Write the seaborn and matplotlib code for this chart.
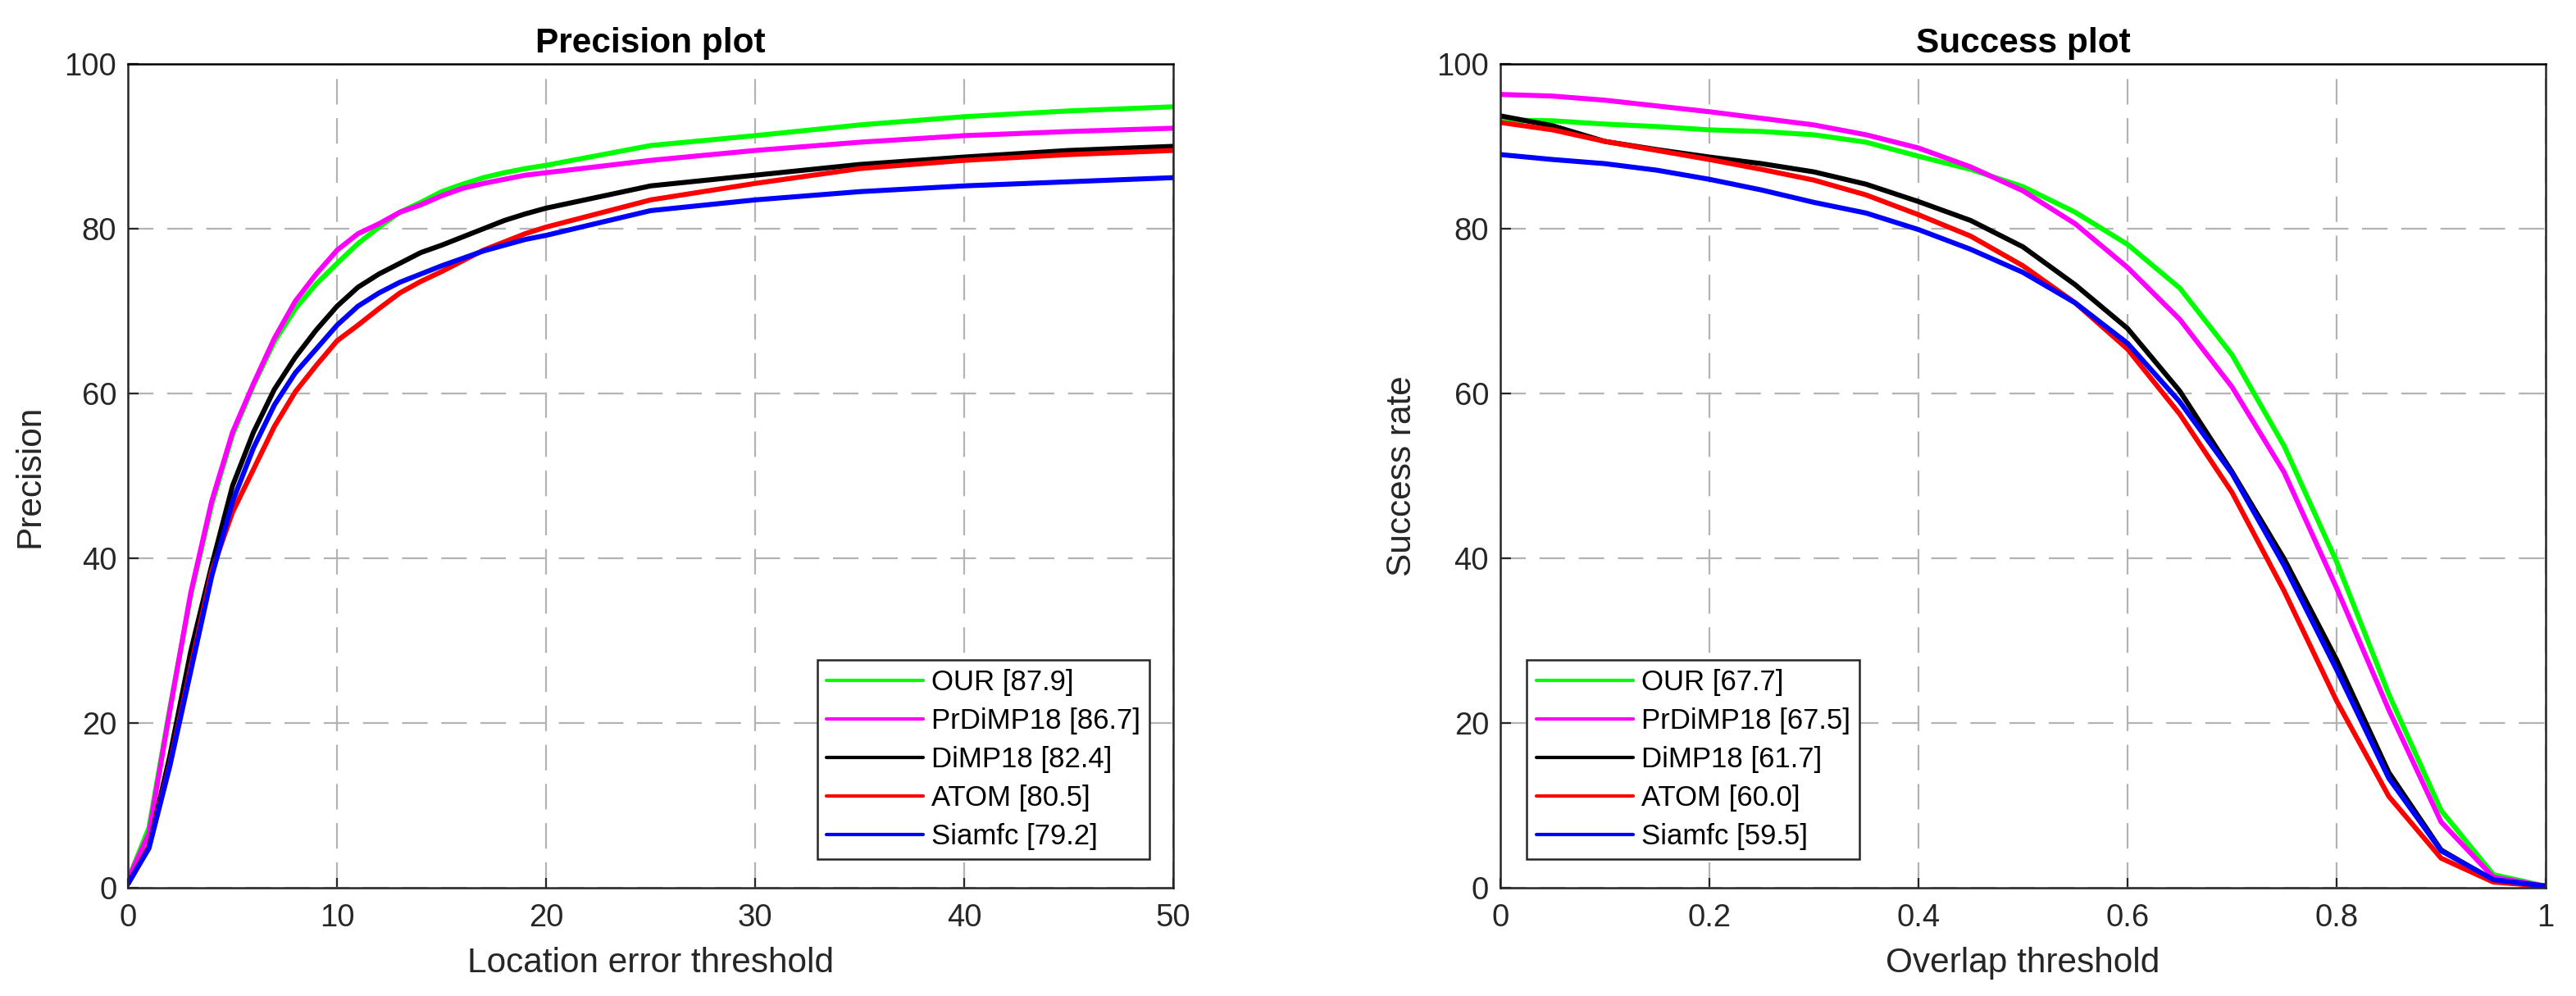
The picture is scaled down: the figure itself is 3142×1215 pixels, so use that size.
import matplotlib
matplotlib.use("Agg")
import matplotlib.pyplot as plt
import pandas as pd
import seaborn as sns

# ---- data ----
trackers = ["OUR", "PrDiMP18", "DiMP18", "ATOM", "Siamfc"]
colors = ["#00ff00", "#ff00ff", "#000000", "#ff0000", "#0000ff"]
precision_scores = [87.9, 86.7, 82.4, 80.5, 79.2]
success_scores = [67.7, 67.5, 61.7, 60.0, 59.5]

location_thresholds = list(range(21)) + [25, 30, 35, 40, 45, 50]
prec_our = [1.0, 7.3, 21.8, 35.5, 46.5, 55.0, 61.0, 66.3, 70.3, 73.3, 75.8, 78.2, 80.2, 82.0,
            83.2, 84.5, 85.4, 86.2, 86.8, 87.3, 87.7, 90.1, 91.3, 92.6, 93.6, 94.3, 94.8]
prec_prdimp = [1.0, 6.6, 21.5, 35.8, 46.9, 55.3, 61.2, 66.7, 71.2, 74.5, 77.4, 79.4, 80.6, 82.0,
               82.9, 84.0, 84.9, 85.5, 86.0, 86.5, 86.8, 88.3, 89.5, 90.5, 91.3, 91.8, 92.2]
prec_dimp = [0.5, 5.0, 16.0, 28.7, 39.1, 48.8, 55.3, 60.5, 64.4, 67.7, 70.6, 72.9, 74.5, 75.8,
             77.1, 78.0, 79.0, 80.0, 81.0, 81.8, 82.5, 85.2, 86.5, 87.8, 88.7, 89.5, 90.0]
prec_atom = [0.5, 5.0, 15.0, 26.8, 38.4, 45.6, 50.8, 56.0, 60.2, 63.4, 66.4, 68.3, 70.3, 72.2,
             73.6, 74.8, 76.1, 77.4, 78.4, 79.4, 80.2, 83.5, 85.5, 87.3, 88.3, 89.0, 89.5]
prec_siamfc = [0.5, 4.8, 14.8, 26.3, 37.8, 46.9, 53.4, 58.6, 62.5, 65.4, 68.3, 70.6, 72.2, 73.5,
               74.5, 75.5, 76.4, 77.3, 78.0, 78.7, 79.2, 82.2, 83.5, 84.5, 85.2, 85.7, 86.2]

overlap_thresholds = [0.0, 0.05, 0.1, 0.15, 0.2, 0.25, 0.3, 0.35, 0.4, 0.45, 0.5,
                      0.55, 0.6, 0.65, 0.7, 0.75, 0.8, 0.85, 0.9, 0.95, 1.0]
succ_our = [93.2, 93.1, 92.7, 92.4, 92.0, 91.8, 91.4, 90.5, 88.8, 87.2, 85.1,
            82.0, 78.1, 72.8, 64.7, 53.6, 39.6, 23.5, 9.4, 1.6, 0.2]
succ_prdimp = [96.3, 96.1, 95.6, 94.9, 94.2, 93.4, 92.6, 91.4, 89.8, 87.5, 84.6,
               80.6, 75.3, 69.0, 60.8, 50.4, 36.4, 21.6, 8.0, 1.3, 0.2]
succ_dimp = [93.7, 92.5, 90.6, 89.6, 88.7, 87.9, 86.9, 85.4, 83.3, 81.0, 77.8,
             73.2, 67.9, 60.3, 50.5, 39.9, 27.7, 14.0, 4.6, 0.9, 0.2]
succ_atom = [92.9, 92.0, 90.6, 89.5, 88.4, 87.2, 85.9, 84.1, 81.7, 79.1, 75.5,
             71.0, 65.4, 57.5, 48.0, 36.0, 22.7, 11.1, 3.6, 0.7, 0.2]
succ_siamfc = [89.0, 88.4, 87.9, 87.1, 86.0, 84.7, 83.2, 81.9, 79.9, 77.5, 74.7,
               71.0, 66.1, 59.0, 50.3, 39.1, 26.5, 13.3, 4.5, 1.0, 0.2]

prec_xticks = [0, 10, 20, 30, 40, 50]
prec_xticklabels = ["0", "10", "20", "30", "40", "50"]
succ_xticks = [0, 0.2, 0.4, 0.6, 0.8, 1.0]
succ_xticklabels = ["0", "0.2", "0.4", "0.6", "0.8", "1"]
yticks = [0, 20, 40, 60, 80, 100]
yticklabels = ["0", "20", "40", "60", "80", "100"]


def long_frame(x, series, scores):
    rows = []
    for name, values, score in zip(trackers, series, scores):
        label = f"{name} [{score:.1f}]"
        for xv, yv in zip(x, values):
            rows.append({"x": xv, "y": yv, "tracker": label})
    return pd.DataFrame(rows)


prec_df = long_frame(location_thresholds,
                     [prec_our, prec_prdimp, prec_dimp, prec_atom, prec_siamfc],
                     precision_scores)
succ_df = long_frame(overlap_thresholds,
                     [succ_our, succ_prdimp, succ_dimp, succ_atom, succ_siamfc],
                     success_scores)

sns.set_theme(style="white")
plt.rcParams["font.family"] = ["Liberation Sans", "DejaVu Sans"]
plt.rcParams["axes.edgecolor"] = "#262626"
plt.rcParams["text.color"] = "#262626"
plt.rcParams["axes.labelcolor"] = "#262626"
plt.rcParams["xtick.color"] = "#262626"
plt.rcParams["ytick.color"] = "#262626"

fig = plt.figure(figsize=(31.42, 12.15), dpi=100)
ax1 = fig.add_axes([0.0497, 0.1086, 0.4058, 0.8272])
ax2 = fig.add_axes([0.5824, 0.1086, 0.4058, 0.8272])


def style_axes(ax, df, title, xlabel, ylabel, xlim, xticks, xticklabels, legend_loc, anchor):
    palette = dict(zip(df["tracker"].unique(), colors))
    sns.lineplot(data=df, x="x", y="y", hue="tracker", palette=palette,
                 linewidth=4.4, ax=ax, legend=False, sort=False)
    ax.set_xlim(*xlim)
    ax.set_ylim(0, 100)
    ax.set_xticks(xticks)
    ax.set_xticklabels(xticklabels)
    ax.set_yticks(yticks)
    ax.set_yticklabels(yticklabels)
    ax.set_axisbelow(True)
    ax.grid(True, color="#b3b3b3", linewidth=1.6, linestyle=(0, (14, 7.5)))
    for s in ax.spines.values():
        s.set_visible(True)
        s.set_linewidth(1.8)
        s.set_color("#262626")
    ax.spines["top"].set_color("black")
    ax.tick_params(axis="both", direction="in", length=9, width=1.6, labelsize=27.5,
                   left=True, bottom=True)
    ax.tick_params(axis="x", pad=14)
    ax.tick_params(axis="y", pad=10)
    ax.set_title(title, fontsize=30.5, fontweight="bold", color="black", pad=10)
    ax.set_xlabel(xlabel, fontsize=30.5, labelpad=12)
    ax.set_ylabel(ylabel, fontsize=30.5, labelpad=16)

    handles = [plt.Line2D([], [], color=c, linewidth=3.0) for c in colors]
    leg = ax.legend(handles, list(df["tracker"].unique()), loc=legend_loc,
                    bbox_to_anchor=anchor, bbox_transform=ax.transAxes,
                    borderaxespad=0, fontsize=25, frameon=True, fancybox=False,
                    framealpha=1, edgecolor="#262626", handlelength=3.4,
                    handletextpad=0.29, labelspacing=0.40, borderpad=0.32)
    leg.get_frame().set_linewidth(1.8)
    for t in leg.get_texts():
        t.set_color("black")


style_axes(ax1, prec_df, "Precision plot", "Location error threshold", "Precision",
           (0, 50), prec_xticks, prec_xticklabels, "lower right", (0.977, 0.035))
style_axes(ax2, succ_df, "Success plot", "Overlap threshold", "Success rate",
           (0, 1), succ_xticks, succ_xticklabels, "lower left", (0.0255, 0.035))

fig.savefig("out.png", dpi=100)
plt.close(fig)
